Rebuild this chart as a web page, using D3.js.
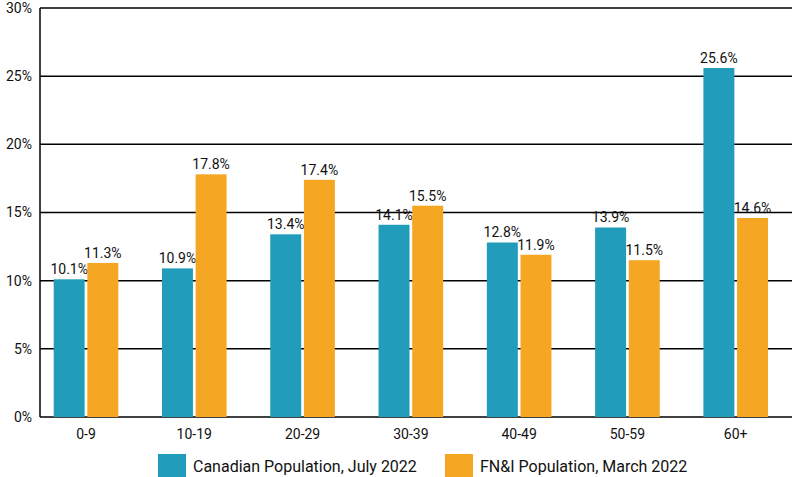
<!DOCTYPE html>
<html><head><meta charset="utf-8">
<script src="https://cdn.jsdelivr.net/npm/d3@7"></script>
<style>
body{margin:0;background:#fff;}
text{font-family:"Liberation Sans Narrow","Arial Narrow","Roboto",sans-serif;font-size:14px;fill:#111;}
</style></head><body><div id="chart"></div>
<script>
const data = [
  {age: "0-9", can: 10.1, fni: 11.3},
  {age: "10-19", can: 10.9, fni: 17.8},
  {age: "20-29", can: 13.4, fni: 17.4},
  {age: "30-39", can: 14.1, fni: 15.5},
  {age: "40-49", can: 12.8, fni: 11.9},
  {age: "50-59", can: 13.9, fni: 11.5},
  {age: "60+", can: 25.6, fni: 14.6}
];
const series = [
  {key: "can", label: "Canadian Population, July 2022", color: "#219dbb"},
  {key: "fni", label: "FN&I Population, March 2022", color: "#f5a623"}
];

const margin = {top: 8, right: 8, bottom: 60, left: 40};
const width = 800 - margin.left - margin.right;
const height = 477 - margin.top - margin.bottom;

const svg = d3.select("#chart").append("svg")
    .attr("width", 800).attr("height", 477)
    .append("g")
    .attr("transform", `translate(${margin.left},${margin.top})`);

const x = d3.scaleBand().domain(data.map(d => d.age)).range([-6, width]).padding(0);
const x1 = d3.scaleBand().domain(series.map(s => s.key)).range([17, 87]).padding(0.08);
const y = d3.scaleLinear().domain([0, 30]).range([height, 0]);

// gridlines
svg.selectAll(".grid").data(y.ticks(6)).join("line")
    .attr("x1", 0).attr("x2", width)
    .attr("y1", d => y(d)).attr("y2", d => y(d))
    .attr("stroke", "#000").attr("stroke-width", 1.5);
svg.append("line").attr("x1", 0).attr("x2", 0).attr("y1", 0).attr("y2", height)
    .attr("stroke", "#000").attr("stroke-width", 1.5);

svg.selectAll(".ylab").data(y.ticks(6)).join("text")
    .attr("x", -8).attr("y", d => y(d)).attr("dy", "0.35em")
    .attr("text-anchor", "end").text(d => d + "%");

const groups = svg.selectAll(".grp").data(data).join("g")
    .attr("transform", d => `translate(${x(d.age)},0)`);

series.forEach(s => {
  groups.append("rect")
      .attr("x", x1(s.key)).attr("width", x1.bandwidth())
      .attr("y", d => y(d[s.key])).attr("height", d => height - y(d[s.key]))
      .attr("fill", s.color);
  groups.append("text")
      .attr("x", x1(s.key) + x1.bandwidth() / 2).attr("y", d => y(d[s.key]) - 5)
      .attr("text-anchor", "middle").text(d => d[s.key].toFixed(1) + "%");
});

svg.selectAll(".xlab").data(data).join("text")
    .attr("x", d => x(d.age) + 52).attr("y", height + 22)
    .attr("text-anchor", "middle").text(d => d.age);

const legend = svg.append("g").attr("transform", `translate(118,${height + 37})`);
const lx = [0, 287];
series.forEach((s, i) => {
  legend.append("rect").attr("x", lx[i]).attr("y", 0).attr("width", 28).attr("height", 24).attr("fill", s.color);
  legend.append("text").attr("x", lx[i] + 35).attr("y", 12).attr("dy", "0.35em")
      .style("font-size", "16px").text(s.label);
});
</script></body></html>
